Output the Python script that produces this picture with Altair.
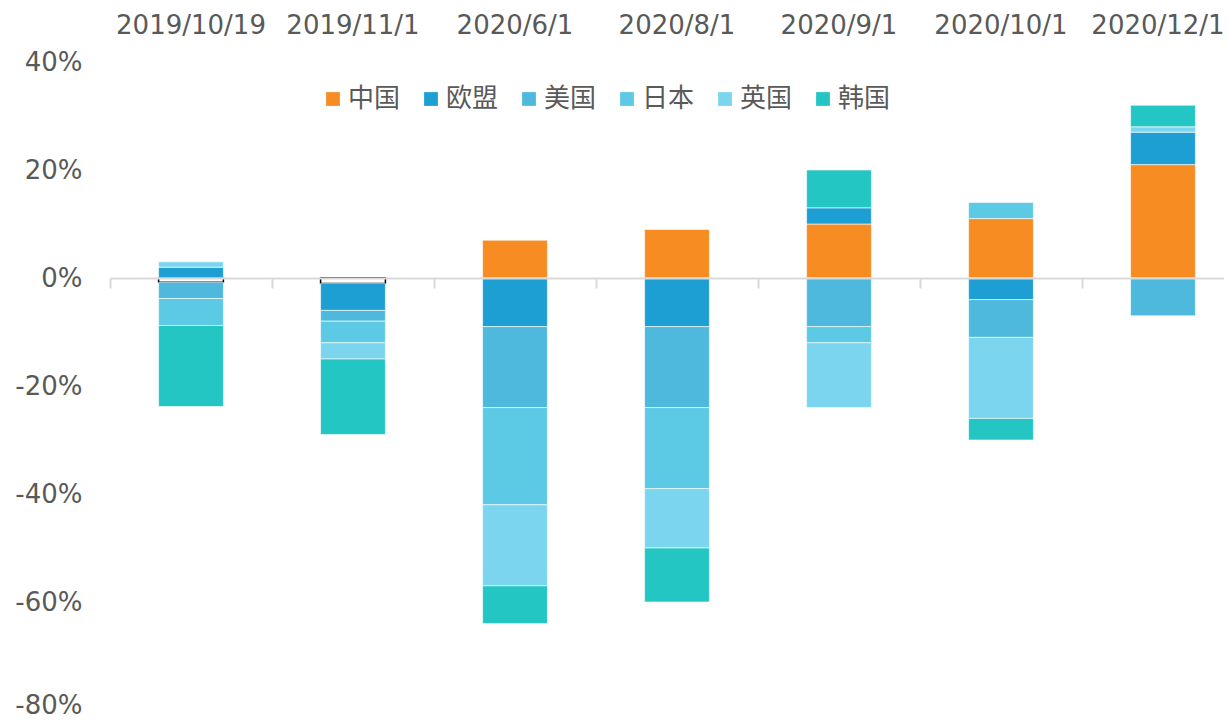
import altair as alt
import pandas as pd

dates = ["2019/10/19", "2019/11/1", "2020/6/1", "2020/8/1", "2020/9/1", "2020/10/1", "2020/12/1"]
series = ["中国", "欧盟", "美国", "日本", "英国", "韩国"]
colors = ["#f68c22", "#1e9fd4", "#4eb9dc", "#5ccae5", "#7bd5ee", "#24c6c4"]

china = [-0.8, -1, 7, 9, 10, 11, 21]
eu = [2, -5, -9, -9, 3, -4, 6]
us = [-3, -2, -15, -15, -9, -7, -7]
japan = [-5, -4, -18, -15, -3, 3, 0]
uk = [1, -3, -15, -11, -12, -15, 1]
korea = [-15, -14, -7, -10, 7, -4, 4]

y_ticks = [-80, -60, -40, -20, 0, 20, 40]

rows = []
for si, (name, vals) in enumerate(zip(series, [china, eu, us, japan, uk, korea])):
    for d, v in zip(dates, vals):
        if v != 0:
            rows.append({"date": d, "series": name, "value": v, "idx": si})
df = pd.DataFrame(rows)

FONT = "DejaVu Sans"
GREY = "#595959"

STEP = 162
xscale = alt.Scale(domain=dates, range=[0, STEP * len(dates)], paddingInner=0.6, paddingOuter=0.3)
test = "datum.series === '中国' && datum.value < 0"

bars = alt.Chart(df).mark_bar().encode(
    x=alt.X("date:N", sort=dates, scale=xscale, title=None,
            axis=alt.Axis(orient="top", domain=False, ticks=False, tickSize=0,
                          labelAngle=0, labelFont=FONT, labelFontSize=26,
                          labelColor=GREY, labelPadding=29, labelBaseline="alphabetic",
                          labelOverlap=False,
                          labelOffset={"condition": {"test": f"datum.value === '{dates[-1]}'",
                                                     "value": -5},
                                       "value": 0})),
    y=alt.Y("value:Q", stack="zero",
            scale=alt.Scale(domain=[-80, 40], nice=False, zero=False),
            title=None,
            axis=alt.Axis(values=y_ticks, grid=False, domain=False, ticks=False,
                          tickSize=0, labelFont=FONT, labelFontSize=26,
                          labelColor=GREY, labelPadding=28,
                          labelOffset={"condition": {"test": f"datum.value === {y_ticks[0]}",
                                                     "value": -5},
                                       "value": 0},
                          labelExpr="(datum.value < 0 ? '-' : '') + abs(round(datum.value)) + '%'")),
    color=alt.condition(
        test, alt.value("white"),
        alt.Color("series:N", sort=series,
                  scale=alt.Scale(domain=series, range=colors),
                  legend=alt.Legend(title=None, orient="none", direction="horizontal",
                                    columns=6, legendX=210, legendY=24,
                                    symbolType="square", symbolSize=190,
                                    symbolStrokeWidth=0, labelFont="Noto Sans CJK SC",
                                    labelFontSize=26, labelColor=GREY, labelOffset=2,
                                    columnPadding=17, padding=0))),
    stroke=alt.condition(test, alt.value("black"), alt.value("white")),
    strokeWidth=alt.condition(test, alt.value(1.5), alt.value(0.6)),
    order=alt.Order("idx:Q", sort="ascending"),
)

zero_axis = alt.Chart(df).mark_point(opacity=0).encode(
    x=alt.X("date:N", sort=dates, scale=xscale, title=None,
            axis=alt.Axis(orient="bottom", offset=-432, labels=False,
                          domainColor="#d9d9d9", domainWidth=2,
                          tickColor="#d9d9d9", tickWidth=2, tickSize=10,
                          bandPosition=0, tickOffset=-0.3 * STEP, zindex=1)),
)

chart = alt.layer(bars, zero_axis).resolve_axis(x="independent").properties(
    width=1114, height=648,
    autosize=alt.AutoSizeParams(type="none"),
    padding={"left": 102, "top": 54, "right": 0, "bottom": 10},
    background="white",
).configure_view(stroke=None)

chart.save("out.html", embed_options={"renderer": "svg", "actions": False})
